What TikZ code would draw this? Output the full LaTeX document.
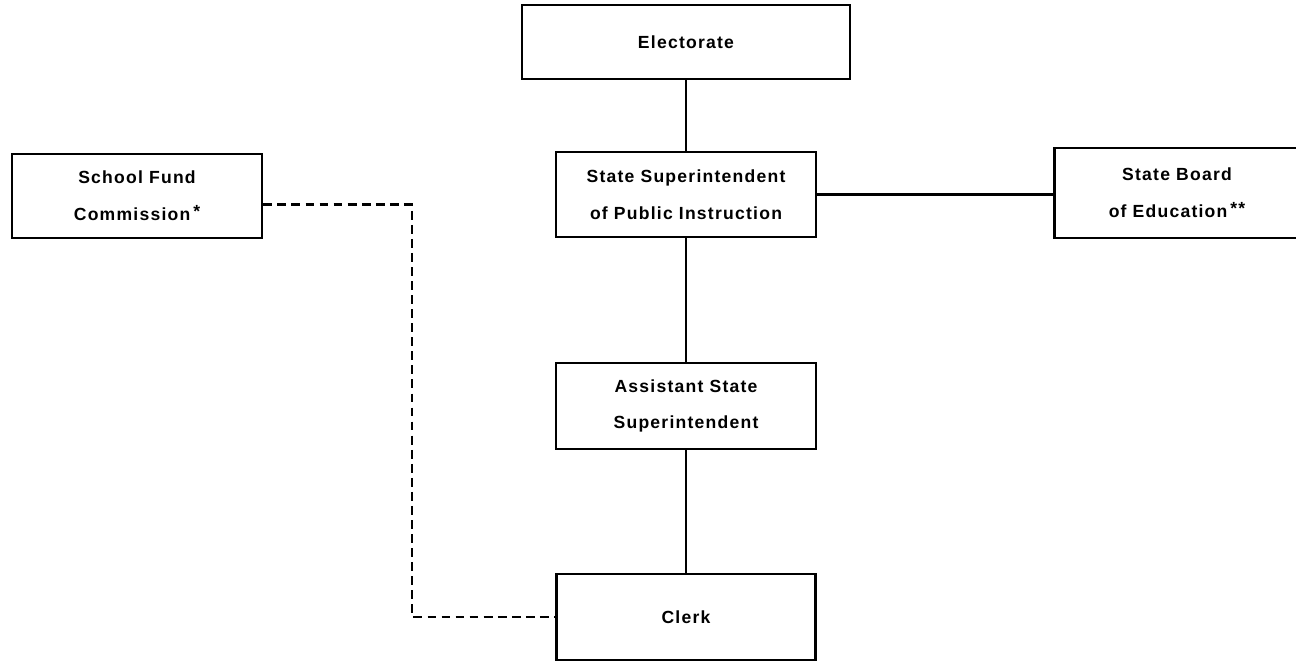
\documentclass[tikz,border=0pt]{standalone}
\usepackage{fontspec}
\newfontfamily\chartfont[LetterSpace=7]{Liberation Sans}
\begin{document}
\begin{tikzpicture}[x=0.02cm,y=-0.02cm,
    office/.style={draw,line width=1.6pt,inner sep=0pt,align=center,
      font=\chartfont\bfseries\fontsize{10}{21}\selectfont},
    link/.style={line width=1.5pt},
    dashlink/.style={line width=1.7pt,dash pattern=on 5pt off 3pt}]
      \useasboundingbox (0,0) rectangle (1296,662);
      \node[office,minimum width=6.56cm,minimum height=1.48cm] (electorate) at (686,42) {Electorate};
      \node[office,minimum width=5.2cm,minimum height=1.7cm] (supt) at (686,194.5)
        {State Superintendent\\of Public Instruction};
      \node[office,minimum width=5.0cm,minimum height=1.68cm] (fund) at (137,196)
        {School Fund\\Commission\,\raisebox{0.3ex}{*}};
      \node[office,minimum width=4.9cm,minimum height=1.8cm] (board) at (1177,193)
        {State Board\\of Education\,\raisebox{0.3ex}{**}};
      \node[office,minimum width=5.2cm,minimum height=1.72cm] (assistant) at (686,406)
        {Assistant State\\Superintendent};
      \node[office,minimum width=5.18cm,minimum height=1.72cm] (clerk) at (686,617) {Clerk};
      \coordinate (corner) at (412,617);
      \begin{scope}[link]
        \draw (electorate) to (supt);
        \draw (supt) to (assistant);
        \draw (assistant) to (clerk);
        \draw (supt.east) to (supt.east -| board.west);
      \end{scope}
      \draw[dashlink] (fund.-4) -| (corner) -- (clerk.west);
    \end{tikzpicture}
\end{document}
